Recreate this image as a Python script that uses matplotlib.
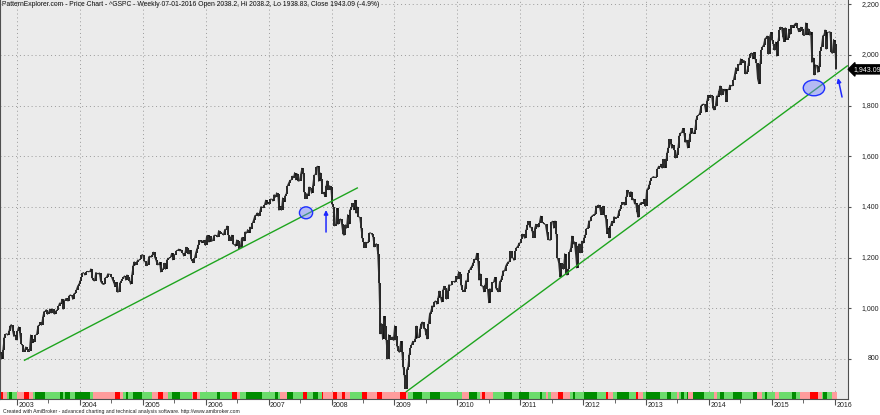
import numpy as np
import pandas as pd
import matplotlib
matplotlib.use("Agg")
import matplotlib.pyplot as plt
from matplotlib.patches import Ellipse, FancyArrowPatch
import matplotlib.transforms as mtransforms

# ---------------- data (weekly closes of ^GSPC, last bar week of 07-01-2016) -------------
closes_2002 = [827, 800, 835, 884, 897, 900, 894, 909, 930, 936, 912, 889, 895, 875]
closes_2003 = [909, 927, 901, 861, 856, 829, 834, 848, 841, 829, 833, 895, 863, 878, 868, 893, 898,
               930, 933, 944, 933, 964, 987, 988, 995, 976, 985, 998, 981, 998, 980, 977, 990, 993,
               1008, 1021, 1018, 1036, 996, 1029, 1038, 1039, 1028, 1050, 1053, 1050, 1035, 1058,
               1061, 1074, 1088, 1095]
closes_2004 = [1108, 1122, 1139, 1141, 1131, 1142, 1146, 1144, 1145, 1156, 1120, 1110, 1108, 1141,
               1139, 1135, 1140, 1107, 1099, 1095, 1094, 1121, 1123, 1136, 1135, 1134, 1125, 1112,
               1101, 1086, 1102, 1064, 1065, 1099, 1107, 1114, 1123, 1128, 1111, 1132, 1122, 1109,
               1095, 1130, 1167, 1184, 1171, 1183, 1191, 1189, 1195, 1210, 1212]
closes_2005 = [1186, 1185, 1168, 1171, 1203, 1206, 1201, 1212, 1222, 1201, 1190, 1172, 1172, 1182,
               1143, 1152, 1157, 1178, 1154, 1189, 1198, 1197, 1201, 1217, 1191, 1211, 1212, 1228,
               1229, 1234, 1226, 1230, 1220, 1206, 1218, 1241, 1238, 1215, 1229, 1196, 1187, 1180,
               1199, 1220, 1235, 1248, 1268, 1265, 1259, 1267, 1268, 1248]
closes_2006 = [1285, 1288, 1261, 1284, 1264, 1267, 1287, 1289, 1287, 1282, 1307, 1302, 1295, 1295,
               1289, 1311, 1310, 1325, 1291, 1267, 1280, 1289, 1253, 1252, 1245, 1270, 1265, 1236,
               1240, 1278, 1280, 1266, 1302, 1296, 1311, 1299, 1321, 1314, 1336, 1350, 1366, 1368,
               1377, 1364, 1380, 1401, 1400, 1397, 1409, 1427, 1410, 1418]
closes_2007 = [1410, 1431, 1431, 1423, 1449, 1438, 1456, 1451, 1387, 1402, 1387, 1436, 1421, 1443,
               1452, 1484, 1495, 1505, 1505, 1522, 1515, 1536, 1507, 1532, 1502, 1503, 1530, 1553,
               1534, 1458, 1433, 1453, 1445, 1479, 1474, 1454, 1484, 1525, 1527, 1557, 1561, 1501,
               1536, 1509, 1453, 1458, 1441, 1481, 1504, 1468, 1484, 1478]
closes_2008 = [1411, 1401, 1325, 1331, 1395, 1331, 1349, 1353, 1331, 1294, 1288, 1330, 1316, 1370,
               1332, 1390, 1398, 1414, 1389, 1426, 1375, 1400, 1361, 1360, 1318, 1278, 1263, 1240,
               1261, 1257, 1261, 1297, 1298, 1293, 1283, 1242, 1252, 1255, 1213, 1100, 899, 940,
               877, 968, 930, 873, 800, 896, 876, 880, 887, 873]
closes_2009 = [931, 890, 850, 832, 826, 869, 827, 770, 735, 683, 757, 768, 816, 843, 857, 870, 866,
               877, 930, 883, 887, 919, 940, 946, 921, 919, 896, 879, 940, 979, 987, 1010, 1005,
               1026, 1029, 1016, 1042, 1068, 1044, 1025, 1071, 1087, 1080, 1036, 1069, 1093, 1091,
               1092, 1106, 1106, 1102, 1126]
closes_2010 = [1115, 1145, 1136, 1092, 1074, 1066, 1075, 1109, 1105, 1139, 1150, 1160, 1167, 1178,
               1194, 1192, 1217, 1187, 1111, 1136, 1088, 1089, 1065, 1092, 1118, 1076, 1022, 1078,
               1065, 1102, 1102, 1122, 1079, 1071, 1065, 1105, 1110, 1126, 1149, 1146, 1166, 1176,
               1183, 1183, 1225, 1199, 1200, 1189, 1225, 1240, 1244, 1257, 1258]
closes_2011 = [1272, 1293, 1284, 1276, 1310, 1329, 1343, 1320, 1321, 1304, 1279, 1313, 1332, 1328,
               1320, 1337, 1364, 1340, 1338, 1333, 1331, 1300, 1271, 1271, 1268, 1340, 1344, 1316,
               1345, 1292, 1199, 1179, 1124, 1177, 1174, 1154, 1216, 1136, 1131, 1155, 1224, 1238,
               1285, 1253, 1263, 1216, 1159, 1244, 1255, 1219, 1265, 1258]
closes_2012 = [1278, 1289, 1315, 1316, 1345, 1343, 1362, 1366, 1370, 1371, 1404, 1397, 1408, 1398,
               1370, 1378, 1403, 1369, 1353, 1295, 1318, 1278, 1325, 1343, 1335, 1362, 1354, 1357,
               1363, 1386, 1391, 1406, 1418, 1411, 1407, 1438, 1466, 1460, 1441, 1461, 1428, 1433,
               1412, 1414, 1380, 1359, 1409, 1416, 1418, 1413, 1430, 1402]
closes_2013 = [1466, 1472, 1486, 1503, 1513, 1518, 1520, 1516, 1518, 1551, 1561, 1556, 1569, 1553,
               1588, 1555, 1582, 1614, 1634, 1667, 1650, 1631, 1643, 1626, 1593, 1606, 1632, 1680,
               1692, 1692, 1710, 1691, 1655, 1664, 1633, 1655, 1688, 1710, 1692, 1690, 1703, 1745,
               1760, 1762, 1771, 1798, 1804, 1806, 1805, 1775, 1818, 1841]
closes_2014 = [1831, 1842, 1838, 1790, 1783, 1797, 1838, 1836, 1859, 1878, 1841, 1866, 1857, 1865,
               1816, 1864, 1863, 1881, 1878, 1878, 1900, 1924, 1950, 1937, 1963, 1961, 1985, 1968,
               1978, 1978, 1925, 1931, 1955, 1988, 2003, 2008, 1985, 2010, 1983, 1968, 1906, 1887,
               1965, 2018, 2032, 2040, 2064, 2068, 2075, 2003, 2071, 2089]
closes_2015 = [2058, 2045, 2019, 2051, 1995, 2055, 2097, 2110, 2105, 2071, 2053, 2108, 2061, 2067,
               2102, 2081, 2117, 2108, 2116, 2123, 2126, 2107, 2092, 2094, 2110, 2102, 2077, 2077,
               2127, 2080, 2104, 2078, 2092, 1971, 1989, 1921, 1961, 1958, 1931, 1951, 2015, 2033,
               2075, 2079, 2099, 2023, 2089, 2090, 2092, 2012, 2006, 2061]
closes_2016 = [2044, 1943.09]
last_bar_date = "2016-01-08"

# bottom indicator strip: segment edges (decimal years) and colour codes
strip_edges = [2002.73, 2002.78, 2002.84, 2002.88, 2002.92, 2003.00, 2003.11, 2003.19, 2003.25,
               2003.29, 2003.45, 2003.68, 2003.73, 2003.76, 2003.84, 2003.92, 2004.16, 2004.21,
               2004.56, 2004.64, 2004.69, 2004.73, 2004.76, 2004.84, 2004.99, 2005.15, 2005.24,
               2005.32, 2005.40, 2005.46, 2005.59, 2005.78, 2005.80, 2005.86, 2005.91, 2006.18,
               2006.23, 2006.42, 2006.50, 2006.55, 2006.64, 2006.90, 2007.10, 2007.15, 2007.18,
               2007.29, 2007.39, 2007.55, 2007.61, 2007.71, 2007.79, 2007.85, 2007.87, 2008.02,
               2008.09, 2008.17, 2008.21, 2008.29, 2008.49, 2008.56, 2008.72, 2008.80, 2009.09,
               2009.18, 2009.22, 2009.30, 2009.44, 2009.57, 2009.73, 2010.07, 2010.19, 2010.31,
               2010.36, 2010.39, 2010.44, 2010.57, 2010.74, 2010.87, 2010.98, 2011.14, 2011.31,
               2011.35, 2011.41, 2011.44, 2011.49, 2011.60, 2011.68, 2011.79, 2011.84, 2011.87,
               2012.01, 2012.22, 2012.36, 2012.40, 2012.48, 2012.54, 2012.73, 2012.84, 2012.88,
               2012.95, 2013.00, 2013.22, 2013.33, 2013.40, 2013.49, 2013.52, 2013.56, 2013.60,
               2013.65, 2013.67, 2013.75, 2013.92, 2014.08, 2014.13, 2014.18, 2014.24, 2014.38,
               2014.53, 2014.70, 2014.76, 2014.84, 2014.89, 2014.92, 2015.05, 2015.11, 2015.32,
               2015.38, 2015.45, 2015.61, 2015.73, 2015.80, 2015.81, 2015.88, 2015.96, 2016.03]
strip_codes = ("RPLDLPRPLD" "LDLDLDLPRP" "LDLDLPRPLD" "LPRPLDLRPL" "DLDLPDLRLD"
               "LRPRPRPLRP" "RPRPLDLDLP" "DLPRPLDLDL" "DLPLPRPLDL" "DLRPLDLRPL"
               "DLDLPLDLDP" "DLPLDLDLDP" "LDLPLDLPRP" "LDLP")

# trend lines, ellipses and arrows drawn on the chart
trend1_x, trend1_y = [2003.12, 2008.41], [795, 1475]
trend2_x, trend2_y = [2009.19, 2016.20], [671, 1957]
ellipse_centers = [(2007.595, 1377), (2015.67, 1870)]
ellipse_sizes = [(0.21, 47), (0.34, 62)]
arrow_tails = [(2007.913, 1301), (2016.116, 1834)]
arrow_heads = [(2007.913, 1388), (2016.052, 1909)]

y_ticks = [800, 1000, 1200, 1400, 1600, 1800, 2000, 2200]
year_ticks = list(range(2003, 2017))
half_year_ticks = [y + 0.5 for y in range(2003, 2016)]

title = ("PatternExplorer.com - Price Chart - ^GSPC - Weekly 07-01-2016 Open 2038.2, "
         "Hi 2038.2, Lo 1938.83, Close 1943.09 (-4.9%)")
footer = ("Created with AmiBroker - advanced charting and technical analysis software. "
          "http://www.amibroker.com")

# ---------------- build ----------------
closes = np.array(closes_2002 + closes_2003 + closes_2004 + closes_2005 + closes_2006 +
                  closes_2007 + closes_2008 + closes_2009 + closes_2010 + closes_2011 +
                  closes_2012 + closes_2013 + closes_2014 + closes_2015 + closes_2016, float)
dates = pd.date_range(end=last_bar_date, periods=len(closes), freq="W-FRI")
days_in_year = np.where(dates.is_leap_year, 366.0, 365.0)
xs = dates.year.values + (dates.dayofyear.values - 1) / days_in_year

W, H = 880, 415
fig = plt.figure(figsize=(W / 100, H / 100), dpi=100)
fig.patch.set_facecolor("white")
ax = fig.add_axes([0, 16 / H, 848 / W, 399 / H])
ax.set_facecolor("#ebebeb")

FONT = "Liberation Sans"
grid_kw = dict(color="#9a9a9a", lw=0.7, ls=(0, (1, 3)), zorder=1)
for yr in year_ticks:
    ax.axvline(yr, **grid_kw)
for v in y_ticks:
    ax.axhline(v, **grid_kw)

# strip
colmap = {"R": "#ff0000", "P": "#ff9c9c", "L": "#6cdc6c", "D": "#008c00"}
for i, code in enumerate(strip_codes):
    if i + 1 >= len(strip_edges):
        break
    ax.axvspan(strip_edges[i], strip_edges[i + 1], ymin=0, ymax=7.5 / 399,
               color=colmap[code], lw=0, zorder=2)

# price bars
lo = np.minimum(closes[:-1], closes[1:])
hi = np.maximum(closes[:-1], closes[1:])
ax.vlines(xs[1:], lo, hi, color="black", lw=1.2, zorder=3)
ax.plot(xs, closes, color="#303030", lw=0.7, zorder=3)

# trend lines
ax.plot(trend1_x, trend1_y, color="#1ea51e", lw=1.0, zorder=4)
ax.plot(trend2_x, trend2_y, color="#1ea51e", lw=1.0, zorder=4)

for (cx, cy), (w, h) in zip(ellipse_centers, ellipse_sizes):
    ax.add_patch(Ellipse((cx, cy), w, h, fc=(0.45, 0.5, 1.0, 0.45), ec="#1e30ff", lw=1.0, zorder=5))
for t, hd in zip(arrow_tails, arrow_heads):
    ax.add_patch(FancyArrowPatch(t, hd, arrowstyle="-|>", mutation_scale=6, color="#1e28ff",
                                 lw=1.1, zorder=5, shrinkA=0, shrinkB=0))

# spines
ax.spines["top"].set_visible(False)
for s in ["left", "right", "bottom"]:
    ax.spines[s].set_color("#505050")
    ax.spines[s].set_linewidth(0.8)

# y axis (right)
ax.yaxis.tick_right()
ax.set_yticks(y_ticks)
ax.set_yticklabels([])
ax.tick_params(axis="y", which="both", length=2, color="#505050", direction="out")

# x axis
ax.set_xticks(year_ticks)
ax.set_xticklabels([str(y) for y in year_ticks], fontsize=5, family=FONT, color="#202020")
ax.set_xticks(half_year_ticks, minor=True)
ax.tick_params(axis="x", which="major", length=4, pad=-1.5, color="#505050")
ax.tick_params(axis="x", which="minor", length=3, color="#505050")
offset = mtransforms.ScaledTranslation(1.5 / 100, 0, fig.dpi_scale_trans)
for lab in ax.get_xticklabels():
    lab.set_horizontalalignment("left")
    lab.set_transform(lab.get_transform() + offset)

# limits last (setting ticks can widen the view)
ax.set_xlim(2002.730, 2016.211)
ax.set_ylim(642, 2217)

ytr = mtransforms.blended_transform_factory(ax.transAxes, ax.transData)
for v in y_ticks:
    ax.text(879 / 848, v, f"{v:,}", transform=ytr, ha="right", va="center",
            fontsize=5, family=FONT, color="#202020", clip_on=False)

# last price label
ax.text(853 / 848, closes[-1], f"{closes[-1]:,.2f}", transform=ytr, ha="left", va="center",
        fontsize=5, family=FONT, color="white",
        bbox=dict(boxstyle="larrow,pad=0.15", fc="black", ec="black"), clip_on=False)

fig.text(2 / W, 1 - 5 / H, title, ha="left", va="center", fontsize=4.9, family=FONT, color="#101010")
fig.text(3 / W, 1 - 411 / H, footer, ha="left", va="center", fontsize=3.7, family=FONT, color="#202020")

fig.savefig("out.png", dpi=100, facecolor="white")
